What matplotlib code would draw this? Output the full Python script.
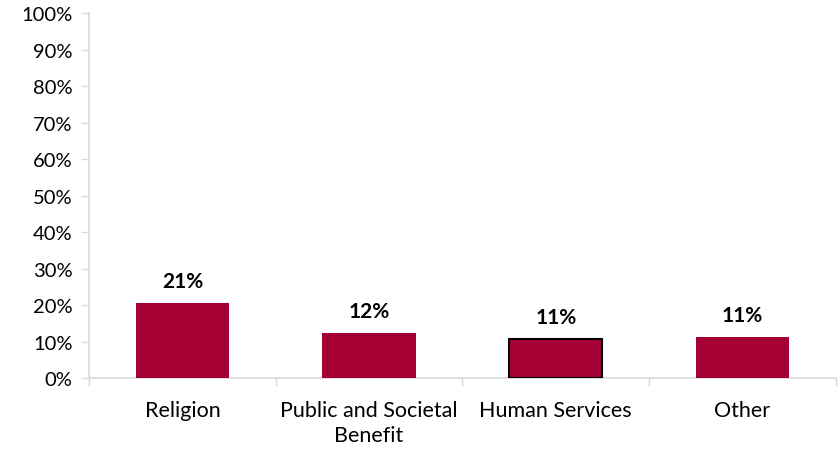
import matplotlib.pyplot as plt
from matplotlib.ticker import MultipleLocator, FuncFormatter, FixedLocator

categories = ["Religion", "Public and Societal\nBenefit", "Human Services", "Other"]
shares = [20.6, 12.3, 10.7, 11.2]
outlined = [False, False, True, False]

bar_color = "#A50034"
axis_gray = "#D9D9D9"

plt.rcParams["font.family"] = ["Lato", "DejaVu Sans"]

fig = plt.figure(figsize=(8.4, 4.52), dpi=100)
ax = fig.add_axes([0.106, 0.1615, 0.889, 0.8075])

x = list(range(len(categories)))
for xi, val, edge in zip(x, shares, outlined):
    ax.bar(xi, val, width=0.5, color=bar_color,
           edgecolor="black" if edge else bar_color,
           linewidth=1.5 if edge else 0, zorder=3)
    ax.text(xi, val + 3.3, f"{round(val):.0f}%", ha="center", va="bottom",
            fontsize=15, fontweight="bold", color="black")

ax.set_xlim(-0.5, len(categories) - 0.5)
ax.set_ylim(0, 100)
ax.yaxis.set_major_locator(MultipleLocator(10))
ax.yaxis.set_major_formatter(FuncFormatter(lambda v, _: f"{v:.0f}%"))

# category labels centred under bars, tick marks on category boundaries
ax.set_xticks(x)
ax.set_xticklabels(categories, fontsize=15.5, linespacing=1.3)
ax.tick_params(axis="x", length=0, pad=16)
ax.xaxis.set_minor_locator(FixedLocator([i - 0.5 for i in range(len(categories) + 1)]))
ax.tick_params(axis="x", which="minor", length=6, width=1, color=axis_gray)
ax.tick_params(axis="y", length=6, width=1, color=axis_gray, labelsize=14.5, pad=6)

for side in ["top", "right"]:
    ax.spines[side].set_visible(False)
for side in ["left", "bottom"]:
    ax.spines[side].set_color(axis_gray)
    ax.spines[side].set_linewidth(1.2)

fig.savefig("out.png", dpi=100)
